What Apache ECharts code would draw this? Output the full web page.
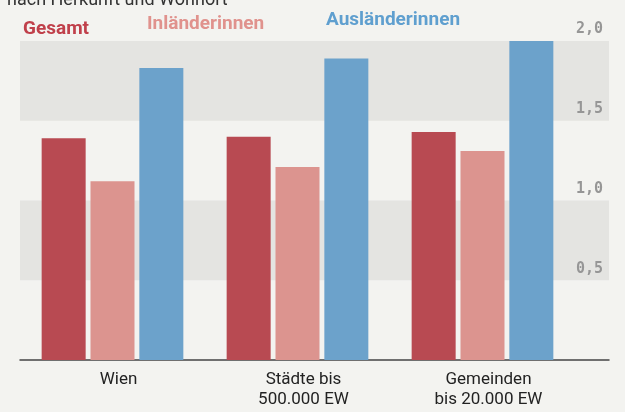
<!DOCTYPE html>
<html>
<head>
<meta charset="utf-8">
<script src="https://cdn.jsdelivr.net/npm/echarts@6/dist/echarts.min.js"></script>
<style>
    html, body { margin: 0; padding: 0; background: #f3f3f0; }
    #chart { width: 625px; height: 412px; }
</style>
</head>
<body>
<div id="chart"></div>
<script>
// Daten
var categories = ['Wien', 'Städte bis\n500.000 EW', 'Gemeinden\nbis 20.000 EW'];
var gesamt = [1.39, 1.40, 1.43];
var inlaender = [1.12, 1.21, 1.31];
var auslaender = [1.83, 1.89, 2.0];
var yTicks = [0, 0.5, 1.0, 1.5, 2.0];

var chart = echarts.init(document.getElementById('chart'));

var narrow = '"Roboto", sans-serif';

function legendAt(name, left, top, color) {
    return {
        left: left,
        top: top,
        icon: 'none',
        itemWidth: 0,
        itemGap: 0,
        padding: 0,
        selectedMode: false,
        data: [name],
        textStyle: { color: color, fontFamily: narrow, fontWeight: 'bold', fontSize: 19, padding: [0, 0, 0, -5] }
    };
}

var option = {
    backgroundColor: '#f3f3f0',
    animation: false,
    // abgeschnittene Zeile oben
    title: {
        text: 'nach Herkunft und Wohnort',
        left: 2,
        top: -14,
        textStyle: { color: '#333', fontFamily: narrow, fontWeight: 'normal', fontSize: 18 }
    },
    legend: [
        legendAt('Gesamt', 23, 20, '#c0404b'),
        legendAt('Inländerinnen', 147, 15, '#e0928d'),
        legendAt('Ausländerinnen', 326, 11, '#5f9fcf')
    ],
    // grid 0: Hintergrundbänder + Skala, grid 1: Balken
    grid: [
        { left: 20, right: 16, top: 41, bottom: 52, outerBoundsMode: 'none' },
        { left: 20, right: 50, top: 41, bottom: 52, outerBoundsMode: 'none' }
    ],
    xAxis: [{
        type: 'value',
        gridIndex: 0,
        min: 0,
        max: 1,
        axisLine: { show: true, onZero: false, lineStyle: { color: '#444', width: 1.5 } },
        axisTick: { show: false },
        axisLabel: { show: false },
        splitLine: { show: false }
    }, {
        type: 'category',
        gridIndex: 1,
        data: categories,
        axisLine: { show: false },
        axisTick: { show: false },
        axisLabel: {
            margin: 10,
            color: '#222',
            fontFamily: narrow,
            fontSize: 17,
            lineHeight: 20,
            padding: [0, 0, 0, 12]
        }
    }],
    yAxis: [{
        type: 'value',
        gridIndex: 0,
        position: 'right',
        min: yTicks[0],
        max: yTicks[yTicks.length - 1],
        interval: 0.5,
        axisLine: { show: false },
        axisTick: { show: false },
        splitLine: { show: false },
        splitArea: { show: true, areaStyle: { color: ['rgba(0,0,0,0)', '#e4e4e1'] } },
        axisLabel: {
            inside: true,
            margin: 6,
            verticalAlign: 'bottom',
            padding: [0, 0, 4, 0],
            color: '#969696',
            fontFamily: '"DejaVu Sans Mono", monospace',
            fontWeight: 'bold',
            fontSize: 15,
            formatter: function (v) {
                return v === 0 ? '' : v.toFixed(1).replace('.', ',');
            }
        }
    }, {
        type: 'value',
        gridIndex: 1,
        min: yTicks[0],
        max: yTicks[yTicks.length - 1],
        show: false
    }],
    series: [{
        name: 'Gesamt',
        type: 'bar',
        xAxisIndex: 1,
        yAxisIndex: 1,
        barWidth: 44,
        barGap: '11%',
        itemStyle: { color: '#b84a52' },
        data: gesamt
    }, {
        name: 'Inländerinnen',
        type: 'bar',
        xAxisIndex: 1,
        yAxisIndex: 1,
        barWidth: 44,
        barGap: '11%',
        itemStyle: { color: '#dc948f' },
        data: inlaender
    }, {
        name: 'Ausländerinnen',
        type: 'bar',
        xAxisIndex: 1,
        yAxisIndex: 1,
        barWidth: 44,
        barGap: '11%',
        itemStyle: { color: '#6ca2cb' },
        data: auslaender
    }]
};

chart.setOption(option);
</script>
</body>
</html>
